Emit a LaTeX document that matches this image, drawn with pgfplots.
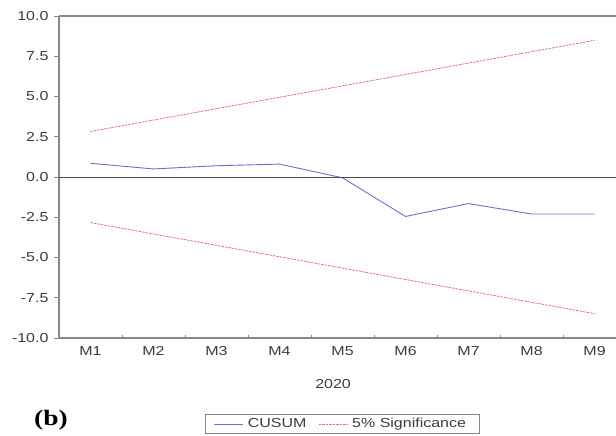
\documentclass[border=0pt]{standalone}
\usepackage{fontspec}
\setmainfont{Liberation Sans}[FakeStretch=1.23]
\newfontfamily\bfont{Liberation Serif}[FakeStretch=1.25]
\usepackage{pgfplots}
\pgfplotsset{compat=1.18}
\definecolor{cusum}{RGB}{110,110,210}
\definecolor{sig}{RGB}{230,110,130}
\definecolor{axgray}{RGB}{135,135,135}
\definecolor{txt}{RGB}{60,60,60}
\begin{document}
\fontsize{13bp}{15bp}\selectfont
\begin{tikzpicture}
\useasboundingbox (-59bp,-98bp) rectangle (557bp,338bp);
\begin{axis}[at={(0,0)}, anchor=south west, scale only axis,
  width=557bp, height=322bp,
  xmin=0.5, xmax=9.34, ymin=-10, ymax=10,
  axis x line*=box, axis y line*=left,
  xtick pos=bottom,
  axis line style={axgray, line width=1.3bp},
  xtick={1,2,3,4,5,6,7,8,9},
  xticklabels={M1,M2,M3,M4,M5,M6,M7,M8,M9},
  major x tick style={draw=none},
  minor xtick={1.5,2.5,3.5,4.5,5.5,6.5,7.5,8.5},
  minor x tick style={axgray, line width=0.8bp},
  minor tick length=3bp,
  ytick={-10,-7.5,-5,-2.5,0,2.5,5,7.5,10},
  yticklabels={-10.0,-7.5,-5.0,-2.5,0.0,2.5,5.0,7.5,10.0},
  major tick length=5bp,
  y tick style={axgray, line width=0.8bp, xshift=-5bp},
  tick label style={text=txt, font=\fontsize{13bp}{15bp}\selectfont},
  yticklabel style={xshift=-6bp},
  xticklabel style={yshift=-4bp},
  xlabel={2020},
  xlabel style={at={(axis description cs:0.492,-0.143)}, anchor=center, text=txt, font=\fontsize{13bp}{15bp}\selectfont},
  legend columns=2,
  legend style={at={(axis description cs:0.508,-0.267)}, anchor=center,
    draw=axgray, line width=0.6bp, text=txt,
    font=\fontsize{13bp}{15bp}\selectfont, inner ysep=1.5bp, inner xsep=9bp,
    nodes={inner xsep=4bp},
    /tikz/every even column/.append style={column sep=8bp}},
  legend image code/.code={\draw[#1] (0bp,0bp) -- (29bp,0bp);},
]
\addplot[cusum, line width=0.9bp] coordinates {(1,0.85)(2,0.5)(3,0.7)(4,0.8)(5,-0.05)(6,-2.45)(7,-1.65)(8,-2.3)(9,-2.3)};
\addlegendentry{CUSUM}
\addplot[sig, dash pattern=on 2.5bp off 1bp, line width=0.8bp] coordinates {(1,2.83)(9,8.49)};
\addlegendentry{5\% Significance}
\addplot[sig, dash pattern=on 2.5bp off 1bp, line width=0.8bp, forget plot] coordinates {(1,-2.83)(9,-8.49)};
\addplot[black!70, line width=0.7bp, forget plot] coordinates {(0.5,0)(9.34,0)};
\end{axis}
\node[font=\bfont\bfseries\fontsize{22bp}{24bp}\selectfont] at (-8bp,-82bp) {(b)};
\end{tikzpicture}
\end{document}
